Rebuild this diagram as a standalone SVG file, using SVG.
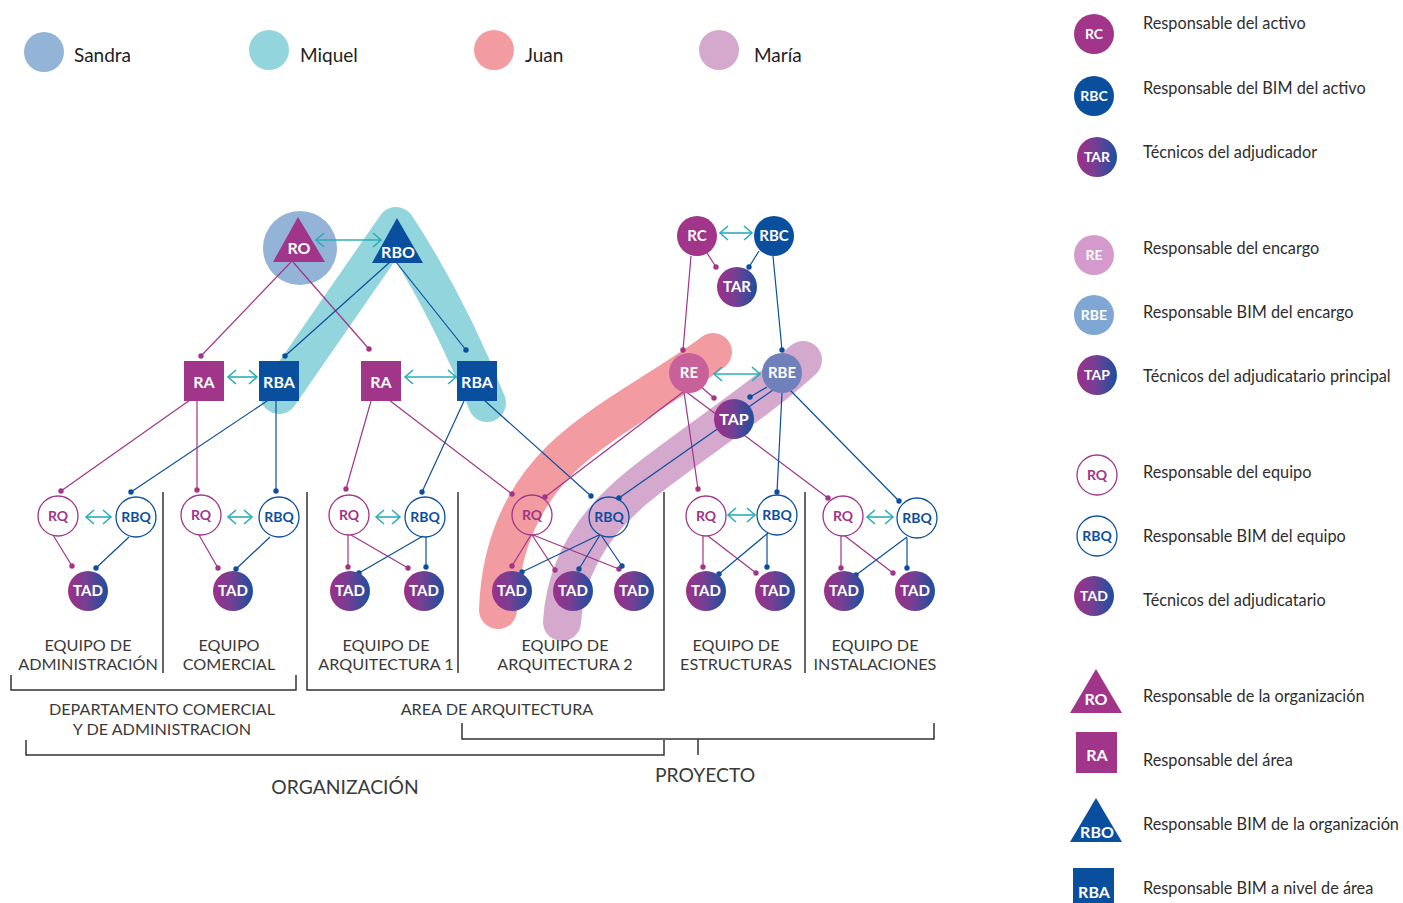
<svg xmlns="http://www.w3.org/2000/svg" width="1403" height="903" viewBox="0 0 1403 903">
  <defs>
    <style>
      .lbl { font-family: Lato, "Open Sans", sans-serif; font-weight: 700; text-anchor: middle; fill: #ffffff; }
      .lq { font-family: Lato, "Open Sans", sans-serif; font-weight: 700; text-anchor: middle; font-size: 14px; }
      .cap { font-family: Lato, "Noto Sans", sans-serif; font-size: 16.2px; fill: #3a3a3a; text-anchor: middle; }
      .big { font-family: Lato, "Noto Sans", sans-serif; font-size: 19.3px; fill: #3a3a3a; text-anchor: middle; }
      .leg { font-family: Lato, "Noto Sans", sans-serif; font-size: 16.3px; fill: #2e2e2e; }
      .who { font-family: Lato, "Noto Sans", sans-serif; font-size: 19px; fill: #222222; }
      .m { stroke: #A0358A; stroke-width: 1.2; fill: none; marker-end: url(#dm); }
      .b { stroke: #0B4F9E; stroke-width: 1.2; fill: none; marker-end: url(#db); }
      .ar { stroke: #2BAEB8; stroke-width: 1.6; fill: none; marker-start: url(#ch); marker-end: url(#ch); }
      .band { fill: none; stroke-width: 38; stroke-linecap: round; stroke-linejoin: round; }
      .rq { fill: none; stroke: #A0358A; stroke-width: 1.3; }
      .rbq { fill: none; stroke: #0B4F9E; stroke-width: 1.3; }
      .sep { stroke: #333333; stroke-width: 1.5; fill: none; }
      .mag { fill: #A0358A; }
      .blu { fill: #0A4F9D; }
      .tad { fill: url(#gTad); }
    </style>
    <linearGradient id="gTad" x1="0" y1="0" x2="1" y2="0">
      <stop offset="0" stop-color="#9E2F88"/>
      <stop offset="0.45" stop-color="#763F93"/>
      <stop offset="1" stop-color="#1C4F9F"/>
    </linearGradient>
    <marker id="dm" viewBox="0 0 6 6" refX="3" refY="3" markerWidth="6" markerHeight="6" markerUnits="userSpaceOnUse">
      <circle cx="3" cy="3" r="2.7" fill="#A0358A"/>
    </marker>
    <marker id="db" viewBox="0 0 6 6" refX="3" refY="3" markerWidth="6" markerHeight="6" markerUnits="userSpaceOnUse">
      <circle cx="3" cy="3" r="2.7" fill="#0B4F9E"/>
    </marker>
    <marker id="ch" viewBox="0 0 12 18" refX="10" refY="9" markerWidth="12" markerHeight="18" markerUnits="userSpaceOnUse" orient="auto-start-reverse">
      <path d="M2,2 L10,9 L2,16" fill="none" stroke="#2BAEB8" stroke-width="1.6"/>
    </marker>
  </defs>

  <rect width="1403" height="903" fill="#ffffff"/>

  <!-- people key -->
  <g id="people">
    <ellipse cx="44" cy="52" rx="20" ry="20" fill="#93B4D6"/>
    <text class="who" x="74" y="62">Sandra</text>
    <ellipse cx="269" cy="50" rx="20" ry="20" fill="#93D5DC"/>
    <text class="who" x="300" y="62">Miquel</text>
    <ellipse cx="494" cy="50" rx="20" ry="20" fill="#F29CA1"/>
    <text class="who" x="525" y="62">Juan</text>
    <ellipse cx="719" cy="50" rx="20" ry="20" fill="#D5A8CE"/>
    <text class="who" x="754" y="62">María</text>
  </g>

  <!-- who covers which roles -->
  <g id="highlights">
    <circle cx="300" cy="248" r="37" fill="#93B4D6"/>
    <path class="band" stroke="#93D5DC" d="M279,395 L396,226 Q448,305 487,403"/>
    <path class="band" stroke="#F29CA1" d="M713,352 C670,385 600,420 560,460 C520,500 500,550 498,610"/>
    <path class="band" stroke="#D5A8CE" d="M803,360 C760,400 690,445 640,485 C590,525 565,570 562,622"/>
  </g>

  <g id="connectors">
    <!-- organisation top -->
    <line class="m" x1="291" y1="262" x2="201" y2="356"/>
    <line class="m" x1="293" y1="262" x2="369" y2="349"/>
    <line class="b" x1="390" y1="262" x2="285" y2="356"/>
    <line class="b" x1="396" y1="262" x2="466" y2="350"/>
    <!-- areas to teams -->
    <line class="m" x1="190" y1="400" x2="61" y2="491"/>
    <line class="b" x1="267" y1="401" x2="131" y2="492"/>
    <line class="m" x1="197" y1="401" x2="197" y2="490"/>
    <line class="b" x1="276" y1="401" x2="276" y2="491"/>
    <line class="m" x1="371" y1="401" x2="346" y2="489"/>
    <line class="m" x1="389" y1="400" x2="512" y2="494"/>
    <line class="b" x1="464" y1="401" x2="422" y2="492"/>
    <line class="b" x1="484" y1="400" x2="591" y2="496"/>
    <!-- teams to technicians -->
    <line class="m" x1="53" y1="535" x2="72" y2="566"/>
    <line class="b" x1="129" y1="537" x2="96" y2="568"/>
    <line class="m" x1="199" y1="535" x2="218" y2="568"/>
    <line class="b" x1="270" y1="537" x2="236" y2="569"/>
    <line class="m" x1="348" y1="535" x2="348" y2="567"/>
    <line class="m" x1="351" y1="535" x2="408" y2="568"/>
    <line class="b" x1="423" y1="536" x2="359" y2="573"/>
    <line class="b" x1="426" y1="537" x2="426" y2="567"/>
    <line class="m" x1="531" y1="535" x2="512" y2="566"/>
    <line class="m" x1="532" y1="535" x2="555" y2="570"/>
    <line class="m" x1="533" y1="535" x2="619" y2="569"/>
    <line class="b" x1="599" y1="535" x2="522" y2="572"/>
    <line class="b" x1="600" y1="535" x2="579" y2="569"/>
    <line class="b" x1="601" y1="535" x2="622" y2="566"/>
    <line class="m" x1="703" y1="536" x2="703" y2="567"/>
    <line class="m" x1="708" y1="536" x2="756" y2="573"/>
    <line class="b" x1="768" y1="533" x2="719" y2="574"/>
    <line class="b" x1="767" y1="534" x2="767" y2="567"/>
    <line class="m" x1="841" y1="536" x2="841" y2="568"/>
    <line class="m" x1="845" y1="536" x2="893" y2="573"/>
    <line class="b" x1="907" y1="537" x2="856" y2="575"/>
    <line class="b" x1="907" y1="538" x2="907" y2="568"/>
    <!-- project chain -->
    <line class="m" x1="707" y1="253" x2="716" y2="267"/>
    <line class="b" x1="759" y1="251" x2="749" y2="267"/>
    <line class="m" x1="691" y1="256" x2="683" y2="350"/>
    <line class="b" x1="773" y1="256" x2="782" y2="350"/>
    <line class="m" x1="700" y1="386" x2="714" y2="398"/>
    <line class="b" x1="767" y1="387" x2="750" y2="397"/>
    <line class="m" x1="683" y1="392" x2="545" y2="497"/>
    <line class="m" x1="684" y1="392" x2="698" y2="489"/>
    <line class="m" x1="685" y1="391" x2="828" y2="498"/>
    <line class="b" x1="773" y1="390" x2="619" y2="498"/>
    <line class="b" x1="782" y1="393" x2="777" y2="492"/>
    <line class="b" x1="788" y1="388" x2="899" y2="501"/>
    <!-- two-way coordination -->
    <line class="ar" x1="316" y1="240" x2="381" y2="240"/>
    <line class="ar" x1="228" y1="377" x2="257" y2="377"/>
    <line class="ar" x1="405" y1="377" x2="456" y2="377"/>
    <line class="ar" x1="86" y1="517" x2="111" y2="517"/>
    <line class="ar" x1="228" y1="517" x2="252" y2="517"/>
    <line class="ar" x1="376" y1="517" x2="400" y2="517"/>
    <line class="ar" x1="728" y1="515" x2="755" y2="515"/>
    <line class="ar" x1="867" y1="517" x2="893" y2="517"/>
    <line class="ar" x1="720" y1="233" x2="752" y2="233"/>
    <line class="ar" x1="714" y1="374" x2="760" y2="374"/>
  </g>

  <!-- organisation nodes -->
  <g id="ro"><polygon class="mag" points="298,217 273,262 325,262"/><text class="lbl" x="299" y="254" font-size="16">RO</text></g>
  <g id="rbo"><polygon class="blu" points="397,218 372,263 423,263"/><text class="lbl" x="398" y="258" font-size="16">RBO</text></g>
  <g id="ra-1"><rect class="mag" x="184" y="361" width="40" height="40"/><text class="lbl" x="204" y="388" font-size="16">RA</text></g>
  <g id="rba-1"><rect class="blu" x="259" y="361" width="40" height="40"/><text class="lbl" x="279" y="388" font-size="16">RBA</text></g>
  <g id="ra-2"><rect class="mag" x="361" y="361" width="40" height="40"/><text class="lbl" x="381" y="388" font-size="16">RA</text></g>
  <g id="rba-2"><rect class="blu" x="457" y="361" width="40" height="40"/><text class="lbl" x="477" y="388" font-size="16">RBA</text></g>

  <!-- team: administración -->
  <g id="rq-adm"><circle class="rq" cx="58" cy="516" r="20"/><text class="lq" x="58" y="521" fill="#A0358A">RQ</text></g>
  <g id="rbq-adm"><circle class="rbq" cx="136" cy="517" r="20"/><text class="lq" x="136" y="522" fill="#0B4F9E">RBQ</text></g>
  <g id="tad-adm"><circle class="tad" cx="88" cy="591" r="20"/><text class="lbl" x="88" y="596" font-size="15">TAD</text></g>
  <!-- team: comercial -->
  <g id="rq-com"><circle class="rq" cx="201" cy="515" r="20"/><text class="lq" x="201" y="520" fill="#A0358A">RQ</text></g>
  <g id="rbq-com"><circle class="rbq" cx="279" cy="517" r="20"/><text class="lq" x="279" y="522" fill="#0B4F9E">RBQ</text></g>
  <g id="tad-com"><circle class="tad" cx="233" cy="591" r="20"/><text class="lbl" x="233" y="596" font-size="15">TAD</text></g>
  <!-- team: arquitectura 1 -->
  <g id="rq-arq1"><circle class="rq" cx="349" cy="515" r="20"/><text class="lq" x="349" y="520" fill="#A0358A">RQ</text></g>
  <g id="rbq-arq1"><circle class="rbq" cx="425" cy="517" r="20"/><text class="lq" x="425" y="522" fill="#0B4F9E">RBQ</text></g>
  <g id="tad-arq1-a"><circle class="tad" cx="350" cy="591" r="20"/><text class="lbl" x="350" y="596" font-size="15">TAD</text></g>
  <g id="tad-arq1-b"><circle class="tad" cx="424" cy="591" r="20"/><text class="lbl" x="424" y="596" font-size="15">TAD</text></g>
  <!-- team: arquitectura 2 -->
  <g id="rq-arq2"><circle class="rq" cx="532" cy="515" r="20"/><text class="lq" x="532" y="520" fill="#A0358A">RQ</text></g>
  <g id="rbq-arq2"><circle class="rbq" cx="609" cy="517" r="20"/><text class="lq" x="609" y="522" fill="#0B4F9E">RBQ</text></g>
  <g id="tad-arq2-a"><circle class="tad" cx="512" cy="591" r="20"/><text class="lbl" x="512" y="596" font-size="15">TAD</text></g>
  <g id="tad-arq2-b"><circle class="tad" cx="573" cy="591" r="20"/><text class="lbl" x="573" y="596" font-size="15">TAD</text></g>
  <g id="tad-arq2-c"><circle class="tad" cx="634" cy="591" r="20"/><text class="lbl" x="634" y="596" font-size="15">TAD</text></g>
  <!-- team: estructuras -->
  <g id="rq-est"><circle class="rq" cx="706" cy="516" r="20"/><text class="lq" x="706" y="521" fill="#A0358A">RQ</text></g>
  <g id="rbq-est"><circle class="rbq" cx="777" cy="515" r="20"/><text class="lq" x="777" y="520" fill="#0B4F9E">RBQ</text></g>
  <g id="tad-est-a"><circle class="tad" cx="706" cy="591" r="20"/><text class="lbl" x="706" y="596" font-size="15">TAD</text></g>
  <g id="tad-est-b"><circle class="tad" cx="775" cy="591" r="20"/><text class="lbl" x="775" y="596" font-size="15">TAD</text></g>
  <!-- team: instalaciones -->
  <g id="rq-ins"><circle class="rq" cx="843" cy="516" r="20"/><text class="lq" x="843" y="521" fill="#A0358A">RQ</text></g>
  <g id="rbq-ins"><circle class="rbq" cx="917" cy="518" r="20"/><text class="lq" x="917" y="523" fill="#0B4F9E">RBQ</text></g>
  <g id="tad-ins-a"><circle class="tad" cx="844" cy="591" r="20"/><text class="lbl" x="844" y="596" font-size="15">TAD</text></g>
  <g id="tad-ins-b"><circle class="tad" cx="915" cy="591" r="20"/><text class="lbl" x="915" y="596" font-size="15">TAD</text></g>

  <!-- project nodes -->
  <g id="rc"><circle class="mag" cx="697" cy="236" r="20"/><text class="lbl" x="697" y="241" font-size="15">RC</text></g>
  <g id="rbc"><circle class="blu" cx="774" cy="236" r="20"/><text class="lbl" x="774" y="241" font-size="15">RBC</text></g>
  <g id="tar"><circle class="tad" cx="737" cy="287" r="20"/><text class="lbl" x="737" y="292" font-size="15">TAR</text></g>
  <g id="re"><circle cx="689" cy="373" r="20" fill="#C8609A"/><text class="lbl" x="689" y="378" font-size="15">RE</text></g>
  <g id="rbe"><circle cx="782" cy="373" r="20" fill="#6F80BA"/><text class="lbl" x="782" y="378" font-size="15">RBE</text></g>
  <g id="tap"><circle class="tad" cx="734" cy="419" r="20"/><text class="lbl" x="734" y="425" font-size="16">TAP</text></g>

  <!-- team dividers and brackets -->
  <g id="brackets">
    <line class="sep" x1="163" y1="492" x2="163" y2="673"/>
    <line class="sep" x1="458" y1="492" x2="458" y2="673"/>
    <line class="sep" x1="805" y1="492" x2="805" y2="673"/>
    <polyline class="sep" points="11,675 11,690 296,690 296,675"/>
    <polyline class="sep" points="307,492 307,690 664,690 664,492"/>
    <polyline class="sep" points="462,723 462,739 934,739 934,723"/>
    <line class="sep" x1="698" y1="739" x2="698" y2="755"/>
    <polyline class="sep" points="26,740 26,755 664,755 664,740"/>
  </g>

  <g id="labels">
    <text class="cap" x="88" y="651">EQUIPO DE</text>
    <text class="cap" x="88" y="670">ADMINISTRACIÓN</text>
    <text class="cap" x="229" y="651">EQUIPO</text>
    <text class="cap" x="229" y="670">COMERCIAL</text>
    <text class="cap" x="386" y="651">EQUIPO DE</text>
    <text class="cap" x="386" y="670">ARQUITECTURA 1</text>
    <text class="cap" x="565" y="651">EQUIPO DE</text>
    <text class="cap" x="565" y="670">ARQUITECTURA 2</text>
    <text class="cap" x="736" y="651">EQUIPO DE</text>
    <text class="cap" x="736" y="670">ESTRUCTURAS</text>
    <text class="cap" x="875" y="651">EQUIPO DE</text>
    <text class="cap" x="875" y="670">INSTALACIONES</text>
    <text class="cap" x="162" y="715">DEPARTAMENTO COMERCIAL</text>
    <text class="cap" x="162" y="735">Y DE ADMINISTRACION</text>
    <text class="cap" x="497" y="715">AREA DE ARQUITECTURA</text>
    <text class="big" x="345" y="794">ORGANIZACIÓN</text>
    <text class="big" x="705" y="782">PROYECTO</text>
  </g>

  <!-- role key -->
  <g id="key">
    <circle class="mag" cx="1094" cy="34" r="20"/><text class="lbl" x="1094" y="39" font-size="14">RC</text>
    <text class="leg" x="1143" y="29">Responsable del activo</text>
    <circle class="blu" cx="1094" cy="96" r="20"/><text class="lbl" x="1094" y="101" font-size="14">RBC</text>
    <text class="leg" x="1143" y="94">Responsable del BIM del activo</text>
    <circle class="tad" cx="1097" cy="157" r="20"/><text class="lbl" x="1097" y="162" font-size="14">TAR</text>
    <text class="leg" x="1143" y="158">Técnicos del adjudicador</text>
    <circle cx="1094" cy="255" r="20" fill="#D49ACB"/><text class="lbl" x="1094" y="260" font-size="14">RE</text>
    <text class="leg" x="1143" y="254">Responsable del encargo</text>
    <circle cx="1094" cy="315" r="20" fill="#7FA7D3"/><text class="lbl" x="1094" y="320" font-size="14">RBE</text>
    <text class="leg" x="1143" y="318">Responsable BIM del encargo</text>
    <circle class="tad" cx="1097" cy="375" r="20"/><text class="lbl" x="1097" y="380" font-size="14">TAP</text>
    <text class="leg" x="1143" y="382">Técnicos del adjudicatario principal</text>
    <circle class="rq" cx="1097" cy="475" r="20"/><text class="lq" x="1097" y="480" fill="#A0358A">RQ</text>
    <text class="leg" x="1143" y="478">Responsable del equipo</text>
    <circle class="rbq" cx="1097" cy="536" r="20"/><text class="lq" x="1097" y="541" fill="#0B4F9E">RBQ</text>
    <text class="leg" x="1143" y="542">Responsable BIM del equipo</text>
    <circle class="tad" cx="1094" cy="596" r="20"/><text class="lbl" x="1094" y="601" font-size="14">TAD</text>
    <text class="leg" x="1143" y="606">Técnicos del adjudicatario</text>
    <polygon class="mag" points="1096,669 1070,713 1122,713"/><text class="lbl" x="1096" y="705" font-size="16">RO</text>
    <text class="leg" x="1143" y="702">Responsable de la organización</text>
    <rect class="mag" x="1076" y="732" width="41" height="41"/><text class="lbl" x="1097" y="761" font-size="16">RA</text>
    <text class="leg" x="1143" y="766">Responsable del área</text>
    <polygon class="blu" points="1096,798 1070,842 1122,842"/><text class="lbl" x="1097" y="838" font-size="16">RBO</text>
    <text class="leg" x="1143" y="830">Responsable BIM de la organización</text>
    <rect class="blu" x="1073" y="868" width="41" height="41"/><text class="lbl" x="1094" y="898" font-size="16">RBA</text>
    <text class="leg" x="1143" y="894">Responsable BIM a nivel de área</text>
  </g>
</svg>
